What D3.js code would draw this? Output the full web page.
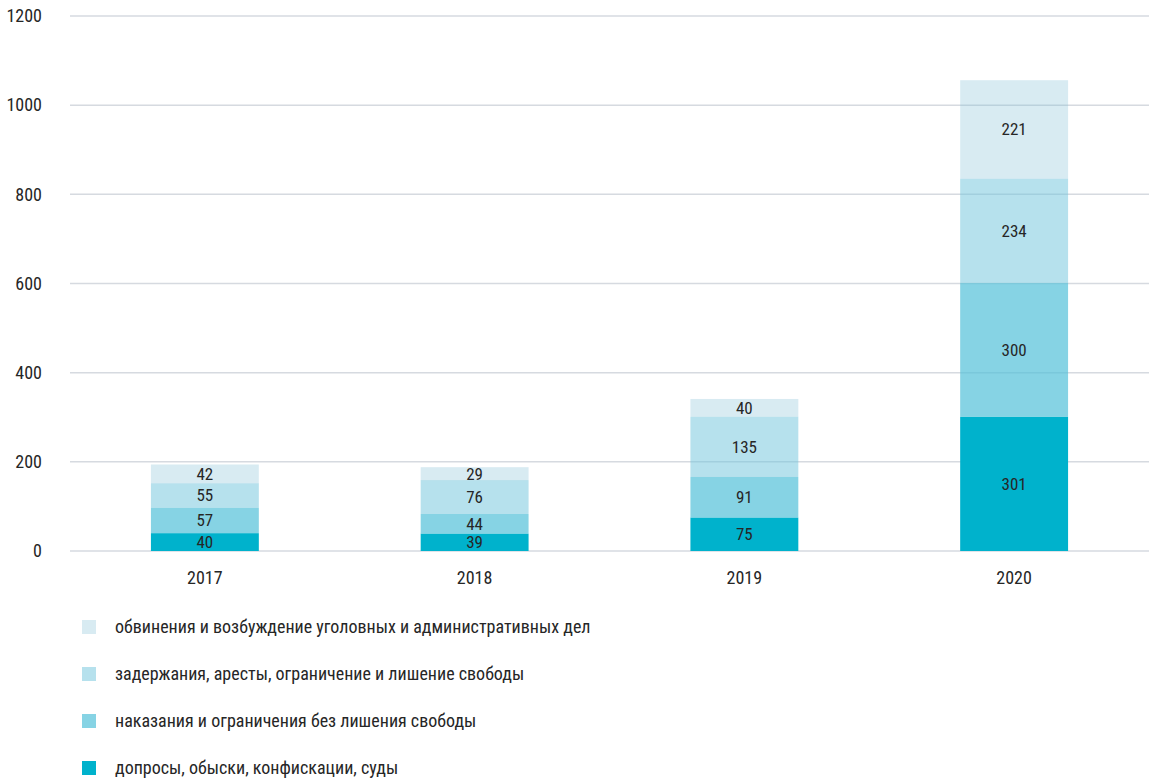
<!DOCTYPE html>
<html><head><meta charset="utf-8">
<script src="https://cdn.jsdelivr.net/npm/d3@7"></script>
<style>
body{margin:0;background:#fff;}
svg text{font-family:"Liberation Sans Narrow","Roboto Condensed","Liberation Sans",sans-serif;fill:#262626;}
</style></head><body>
<svg id="c" width="1149" height="781"></svg>
<script>
const years = ["2017","2018","2019","2020"];
const seriesNames = [
  "допросы, обыски, конфискации, суды",
  "наказания и ограничения без лишения свободы",
  "задержания, аресты, ограничение и лишение свободы",
  "обвинения и возбуждение уголовных и административных дел"
];
const searches   = [40, 39, 75, 301];
const punishments = [57, 44, 91, 300];
const detentions = [55, 76, 135, 234];
const charges    = [42, 29, 40, 221];
const yTicks = [0, 200, 400, 600, 800, 1000, 1200];
const colors = ["#00b2cc", "rgba(82,192,216,0.7)", "rgba(109,195,219,0.5)", "rgba(125,188,212,0.3)"];
const legendColors = ["#00b2cc", "#86d3e4", "#b6e1ed", "#d8ebf2"];

(function(){
const seriesVals = [searches, punishments, detentions, charges];
const rows = years.map((yr,i)=>({year:yr, s0:seriesVals[0][i], s1:seriesVals[1][i], s2:seriesVals[2][i], s3:seriesVals[3][i]}));
const stack = d3.stack().keys(["s0","s1","s2","s3"])(rows);

const svg = d3.select("#c");
const mLeft = 70, mRight = 1149, mTop = 16, mBottom = 551;
const x = d3.scaleBand().domain(years).range([mLeft, mRight]).paddingInner(0.6).paddingOuter(0.3);
const y = d3.scaleLinear().domain([0,1200]).range([mBottom, mTop]);

svg.append("g").selectAll("line").data(yTicks).join("line")
  .attr("x1", mLeft).attr("x2", mRight)
  .attr("y1", d=>y(d)).attr("y2", d=>y(d))
  .attr("stroke", "#d6dae0").attr("stroke-width", 1.5);

svg.append("g").selectAll("text").data(yTicks).join("text")
  .attr("x", 42).attr("y", d=>y(d)).attr("dy","0.35em")
  .attr("text-anchor","end").attr("font-size", 18).text(d=>d);

const g = svg.append("g");
stack.forEach((layer, li)=>{
  g.append("g").selectAll("rect").data(layer).join("rect")
    .attr("x", d=>x(d.data.year)).attr("width", x.bandwidth())
    .attr("y", d=>y(d[1])).attr("height", d=>y(d[0])-y(d[1]))
    .attr("fill", colors[li]);
});
stack.forEach((layer, li)=>{
  g.append("g").selectAll("text").data(layer).join("text")
    .attr("x", d=>x(d.data.year)+x.bandwidth()/2)
    .attr("y", d=>y((d[0]+d[1])/2)).attr("dy","0.35em")
    .attr("text-anchor","middle").attr("font-size", 17)
    .text(d=>d[1]-d[0]);
});

svg.append("g").selectAll("text").data(years).join("text")
  .attr("x", d=>x(d)+x.bandwidth()/2).attr("y", 578).attr("dy","0.35em")
  .attr("text-anchor","middle").attr("font-size", 18).text(d=>d);

const legOrder = [3,2,1,0];
const lg = svg.append("g").selectAll("g").data(legOrder).join("g")
  .attr("transform", (d,i)=>`translate(82,${620 + i*47})`);
lg.append("rect").attr("width",14).attr("height",14).attr("fill", d=>legendColors[d]);
lg.append("text").attr("x", 33).attr("y", 7).attr("dy","0.35em").attr("font-size", 18)
  .text(d=>seriesNames[d]);
})();
</script></body></html>
